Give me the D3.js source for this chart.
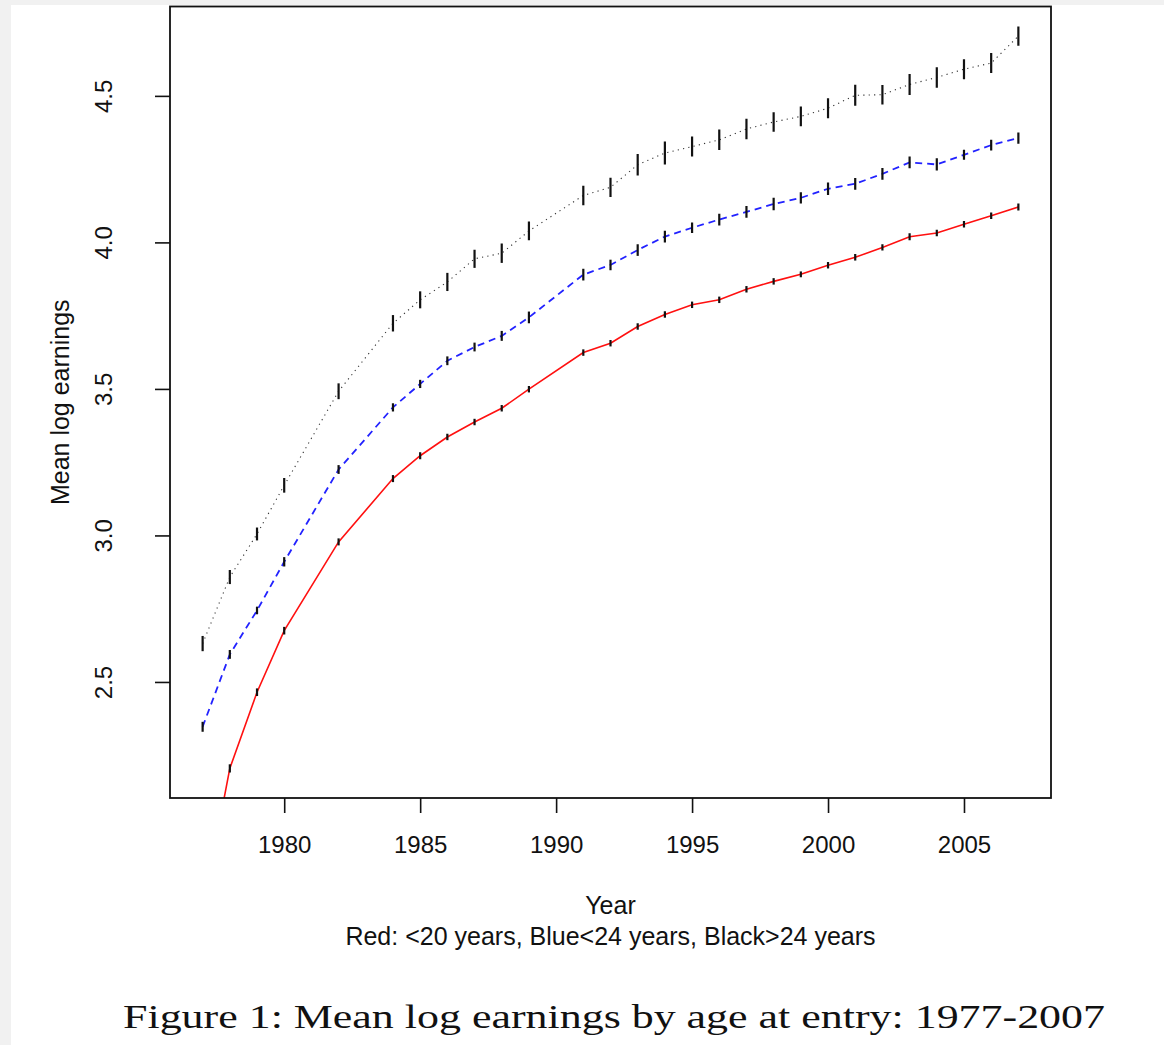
<!DOCTYPE html>
<html>
<head>
<meta charset="utf-8">
<script src="https://cdn.jsdelivr.net/npm/d3@7"></script>
<style>
  html, body { margin: 0; padding: 0; background: #f1f1f1; }
  svg { display: block; }
  .axis text { font-family: "Liberation Sans", Arial, sans-serif; font-size: 24px; fill: #111; }
  .axis line { stroke: #111; stroke-width: 1.6; }
  .lab { font-family: "Liberation Sans", Arial, sans-serif; font-size: 25px; fill: #111; }
</style>
</head>
<body>
<script>
// years observed (1981, 1983, 1990 missing)
var years = [1977,1978,1979,1980,1982,1984,1985,1986,1987,1988,1989,1991,1992,1993,1994,
             1995,1996,1997,1998,1999,2000,2001,2002,2003,2004,2005,2006,2007];
// mean log earnings, entry age <20
var red = [1.72,2.205,2.465,2.675,2.978,3.194,3.272,3.336,3.387,3.434,3.499,3.624,3.656,3.713,3.754,
           3.787,3.804,3.840,3.867,3.891,3.922,3.949,3.983,4.019,4.032,4.062,4.091,4.121];
// entry age <24
var blue = [2.347,2.594,2.744,2.910,3.225,3.437,3.517,3.596,3.643,3.681,3.744,3.890,3.923,3.974,4.020,
            4.050,4.078,4.104,4.131,4.152,4.183,4.200,4.234,4.273,4.266,4.299,4.332,4.356];
// entry age >24
var black = [2.631,2.858,3.005,3.171,3.492,3.724,3.804,3.865,3.944,3.963,4.039,4.160,4.188,4.265,4.305,
             4.327,4.350,4.387,4.411,4.430,4.458,4.502,4.504,4.539,4.563,4.591,4.612,4.704];
// half widths of the error bars
var redErr = [0.014,0.014,0.013,0.013,0.012,0.012,0.012,0.011,0.011,0.011,0.011,0.011,0.011,0.011,0.011,
              0.011,0.011,0.011,0.011,0.010,0.011,0.011,0.011,0.012,0.011,0.011,0.011,0.012];
var blueErr = [0.017,0.015,0.013,0.016,0.015,0.014,0.014,0.015,0.015,0.017,0.020,0.020,0.018,0.020,0.020,
               0.018,0.020,0.020,0.021,0.019,0.021,0.020,0.020,0.020,0.021,0.017,0.018,0.019];
var blackErr = [0.026,0.024,0.022,0.025,0.027,0.028,0.029,0.031,0.031,0.033,0.032,0.033,0.033,0.037,0.039,
                0.034,0.035,0.035,0.033,0.034,0.034,0.036,0.033,0.036,0.035,0.034,0.034,0.033];
var xTicks = [1980,1985,1990,1995,2000,2005];
var yTicks = [2.5,3.0,3.5,4.0,4.5];

var W = 1164, H = 1045;
var pL = 170, pR = 1051, pT = 6.5, pB = 798;

var svg = d3.select("body").append("svg").attr("width", W).attr("height", H);
svg.append("rect").attr("x", 11).attr("y", 5).attr("width", W - 11).attr("height", H - 5).attr("fill", "#fff");

var x = d3.scaleLinear().domain([1975.8, 2008.2]).range([pL, pR]);
var y = d3.scaleLinear().domain([2.104, 4.805]).range([pB, pT]);

svg.append("clipPath").attr("id", "plot")
  .append("rect").attr("x", pL).attr("y", pT).attr("width", pR - pL).attr("height", pB - pT);

var xAxis = d3.axisBottom(x).tickValues(xTicks).tickSize(15).tickPadding(23).tickFormat(d3.format("d"));
var yAxis = d3.axisLeft(y).tickValues(yTicks).tickSize(15).tickFormat(d3.format(".1f"));

var gx = svg.append("g").attr("class", "axis").attr("transform", "translate(0," + pB + ")").call(xAxis);
gx.select(".domain").remove();
var gy = svg.append("g").attr("class", "axis").attr("transform", "translate(" + pL + ",0)").call(yAxis);
gy.select(".domain").remove();
gy.selectAll("text").attr("x", null).attr("dy", null)
  .attr("text-anchor", "middle")
  .attr("transform", "translate(-58,0) rotate(-90)");

var series = [
  {vals: black, err: blackErr, color: "#333", width: 1.1, dash: "1.2 4.2"},
  {vals: blue, err: blueErr, color: "#2222ff", width: 1.8, dash: "7 5"},
  {vals: red, err: redErr, color: "#ff1010", width: 1.6, dash: null}
];

var plot = svg.append("g").attr("clip-path", "url(#plot)");

series.forEach(function(s){
  var pts = years.map(function(yr, i){ return {yr: yr, v: s.vals[i], e: s.err[i]}; });
  var line = d3.line()
    .x(function(d){ return x(d.yr); })
    .y(function(d){ return y(d.v); });
  plot.append("path").attr("d", line(pts))
    .attr("fill", "none").attr("stroke", s.color).attr("stroke-width", s.width)
    .attr("stroke-dasharray", s.dash);
  plot.selectAll(null).data(pts).enter().append("line")
    .attr("x1", function(d){ return x(d.yr); })
    .attr("x2", function(d){ return x(d.yr); })
    .attr("y1", function(d){ return y(d.v - d.e); })
    .attr("y2", function(d){ return y(d.v + d.e); })
    .attr("stroke", "#111").attr("stroke-width", 2.2);
});

svg.append("rect").attr("x", pL).attr("y", pT).attr("width", pR - pL).attr("height", pB - pT)
  .attr("fill", "none").attr("stroke", "#111").attr("stroke-width", 1.8);

svg.append("text").attr("class", "lab").attr("x", (pL + pR) / 2).attr("y", 914)
  .attr("text-anchor", "middle").text("Year");
svg.append("text").attr("class", "lab").attr("x", (pL + pR) / 2).attr("y", 945)
  .attr("text-anchor", "middle").text("Red: <20 years, Blue<24 years, Black>24 years");
svg.append("text").attr("class", "lab")
  .attr("transform", "translate(69," + (pT + pB) / 2 + ") rotate(-90)")
  .attr("text-anchor", "middle").text("Mean log earnings");

svg.append("text").attr("x", 123).attr("y", 1028)
  .attr("font-family", "'Liberation Serif', 'Times New Roman', serif").attr("font-size", 34)
  .attr("fill", "#111")
  .attr("textLength", 982).attr("lengthAdjust", "spacingAndGlyphs")
  .text("Figure 1: Mean log earnings by age at entry: 1977-2007");
</script>
</body>
</html>
